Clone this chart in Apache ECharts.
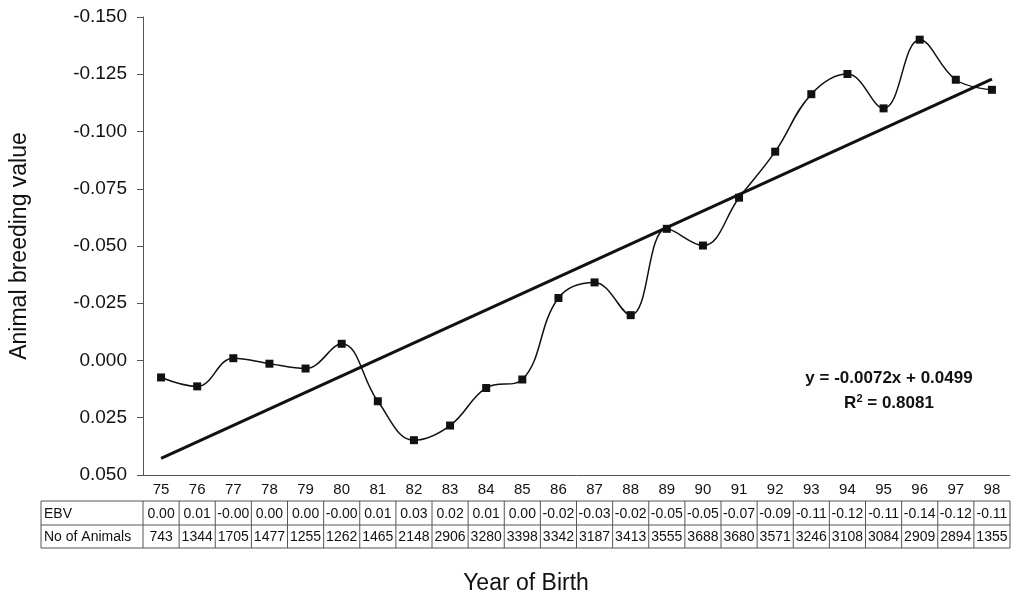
<!DOCTYPE html>
<html>
<head>
<meta charset="utf-8">
<script src="https://cdn.jsdelivr.net/npm/echarts@6/dist/echarts.min.js"></script>
<style>
  html, body { margin: 0; padding: 0; background: #fff; }
  #chart { width: 1012px; height: 599px; }
</style>
</head>
<body>
<div id="chart"></div>
<script>
const years = ['75', '76', '77', '78', '79', '80', '81', '82', '83', '84', '85', '86',
  '87', '88', '89', '90', '91', '92', '93', '94', '95', '96', '97', '98'];
// breeding value per birth year
const breedingValues = [0.0074, 0.0113, -0.0010, 0.0014, 0.0035, -0.0073, 0.0178, 0.0348,
  0.0284, 0.0120, 0.0083, -0.0273, -0.0341, -0.0198, -0.0575, -0.0502, -0.0711, -0.0912,
  -0.1163, -0.1251, -0.1101, -0.1401, -0.1226, -0.1182];
// linear trend, value at first and last year
const trendEnds = [0.0427, -0.1229];
const ebvLabels = ['0.00', '0.01', '-0.00', '0.00', '0.00', '-0.00', '0.01', '0.03', '0.02',
  '0.01', '0.00', '-0.02', '-0.03', '-0.02', '-0.05', '-0.05', '-0.07', '-0.09', '-0.11',
  '-0.12', '-0.11', '-0.14', '-0.12', '-0.11'];
const animalCounts = [743, 1344, 1705, 1477, 1255, 1262, 1465, 2148, 2906, 3280, 3398, 3342,
  3187, 3413, 3555, 3688, 3680, 3571, 3246, 3108, 3084, 2909, 2894, 1355];
const equationLines = ['y = -0.0072x + 0.0499', '{r|R}{sup|2}{r| = 0.8081}'];

const FONT = "'Liberation Sans', Arial, sans-serif";
const INK = '#111';
const RULE = '#555';

const trendData = years.map((y, i) =>
  i === 0 ? trendEnds[0] : i === years.length - 1 ? trendEnds[1] : null);

const chart = echarts.init(document.getElementById('chart'));

chart.setOption({
  backgroundColor: '#fff',
  animation: false,
  textStyle: { fontFamily: FONT },
  grid: { left: 143, right: 2, top: 17, bottom: 124 },
  xAxis: {
    type: 'category',
    data: years,
    boundaryGap: true,
    axisLine: { onZero: false, lineStyle: { color: RULE, width: 1 } },
    axisTick: { length: 26, lineStyle: { color: RULE } },
    axisLabel: { color: INK, fontSize: 15, margin: 7, fontFamily: FONT },
    splitLine: { show: false }
  },
  yAxis: {
    type: 'value',
    inverse: true,
    min: -0.15,
    max: 0.05,
    interval: 0.025,
    name: 'Animal breeding value',
    nameLocation: 'middle',
    nameGap: 112,
    nameTextStyle: { color: INK, fontSize: 23, fontFamily: FONT },
    axisLine: { show: true, onZero: false, lineStyle: { color: RULE, width: 1 } },
    axisTick: { show: true, length: 6, lineStyle: { color: RULE } },
    axisLabel: {
      color: INK, fontSize: 19, margin: 16, fontFamily: FONT,
      formatter: (v) => v.toFixed(3)
    },
    splitLine: { show: false }
  },
  series: [
    {
      name: 'Trend',
      type: 'line',
      data: trendData,
      connectNulls: true,
      symbol: 'none',
      lineStyle: { color: INK, width: 3 },
      z: 2
    },
    {
      name: 'Breeding value',
      type: 'line',
      data: breedingValues,
      smooth: 0.4,
      symbol: 'rect',
      symbolSize: 8,
      itemStyle: { color: INK },
      lineStyle: { color: INK, width: 1.5 },
      z: 3
    }
  ]
});

// data table under the axis
const tableLeft = 41;
const tableRight = 1010;
const rowTops = [501, 525, 548];
const headLeft = 143;
const centers = years.map((y) => chart.convertToPixel({ xAxisIndex: 0 }, y));
const cellW = centers[1] - centers[0];

const graphics = [];
rowTops.forEach((ty) => {
  graphics.push({
    type: 'line',
    shape: { x1: tableLeft, y1: ty, x2: tableRight, y2: ty },
    style: { stroke: RULE, lineWidth: 1 }
  });
});
const verticals = [tableLeft, headLeft].concat(centers.map((c) => c + cellW / 2));
verticals.forEach((vx) => {
  graphics.push({
    type: 'line',
    shape: { x1: vx, y1: rowTops[0], x2: vx, y2: rowTops[2] },
    style: { stroke: RULE, lineWidth: 1 }
  });
});
const rows = [['EBV', ebvLabels], ['No of Animals', animalCounts]];
rows.forEach(([head, vals], r) => {
  const cy = (rowTops[r] + rowTops[r + 1]) / 2 + 1;
  graphics.push({
    type: 'text',
    style: { text: head, x: tableLeft + 3, y: cy, fill: INK, font: '14px ' + FONT,
      textAlign: 'left', textVerticalAlign: 'middle' }
  });
  vals.forEach((v, i) => {
    graphics.push({
      type: 'text',
      style: { text: String(v), x: centers[i], y: cy, fill: INK, font: '14px ' + FONT,
        textAlign: 'center', textVerticalAlign: 'middle' }
    });
  });
});

graphics.push({
  type: 'text',
  style: { text: 'Year of Birth', x: 526, y: 584, fill: INK, font: '23px ' + FONT,
    textAlign: 'center', textVerticalAlign: 'middle' }
});
graphics.push({
  type: 'text',
  style: { text: equationLines[0], x: 889, y: 378, fill: INK, font: 'bold 17px ' + FONT,
    textAlign: 'center', textVerticalAlign: 'middle' }
});
graphics.push({
  type: 'text',
  style: {
    text: equationLines[1], x: 889, y: 403, fill: INK, font: 'bold 17px ' + FONT,
    textAlign: 'center', textVerticalAlign: 'middle',
    rich: {
      r: { fontSize: 17, fontWeight: 'bold', fontFamily: FONT, fill: INK },
      sup: { fontSize: 11, fontWeight: 'bold', fontFamily: FONT, fill: INK, verticalAlign: 'top', padding: [0, 0, 8, 0] }
    }
  }
});

chart.setOption({ graphic: graphics });
</script>
</body>
</html>
